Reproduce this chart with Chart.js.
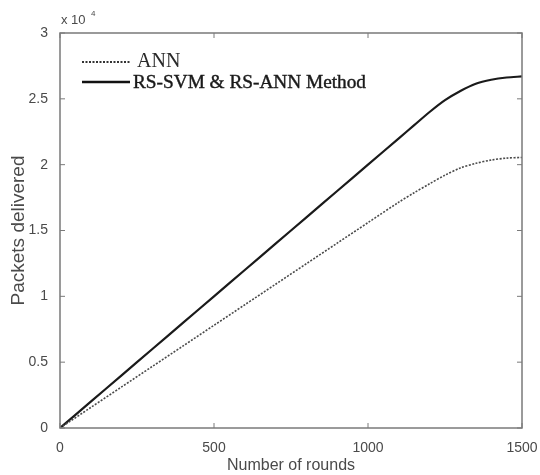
<!DOCTYPE html>
<html lang="en">
<head>
    <meta charset="UTF-8">
    <title>Packets delivered</title>
    <script src="https://cdn.jsdelivr.net/npm/chart.js"></script>
    <style>
        body { margin: 0; background: #fff; }
        #wrap { width: 540px; height: 475px; }
    </style>
</head>
<body>
    <div id="wrap"><canvas id="packetsChart" width="540" height="475"></canvas></div>
    <script>
        // rounds on x, packets delivered on y
        var rounds = [0, 100, 200, 300, 400, 500, 600, 700, 800, 900, 1000, 1100, 1150, 1200, 1250, 1300, 1350, 1400, 1450, 1500];
        var annPackets = [0, 1560, 3120, 4680, 6240, 7800, 9360, 10920, 12480, 14040, 15600, 17150, 17870, 18550, 19200, 19750, 20100, 20350, 20500, 20550];
        var rsPackets = [0, 2000, 4000, 6000, 8000, 10000, 12000, 14000, 16000, 18000, 20000, 22000, 23000, 24000, 24900, 25600, 26150, 26450, 26620, 26700];
        var xTicks = [0, 500, 1000, 1500];
        var yTicks = [0, 5000, 10000, 15000, 20000, 25000, 30000];
        var seriesNames = ['ANN', 'RS-SVM & RS-ANN Method'];

        function toPoints(ys) {
            return rounds.map(function (r, i) { return { x: r, y: ys[i] }; });
        }

        var axisGray = '#7a7a7a';
        var textGray = '#4a4a4a';
        var sans = '"Liberation Sans", Arial, sans-serif';
        var serif = '"Liberation Serif", "Times New Roman", serif';

        // frame around the plot, inward ticks, exponent and legend
        var framePlugin = {
            id: 'frame',
            afterDraw: function (chart) {
                var ctx = chart.ctx;
                var a = chart.chartArea;
                var xs = chart.scales.x, ys = chart.scales.y;
                ctx.save();
                ctx.strokeStyle = axisGray;
                ctx.lineWidth = 1.5;
                ctx.strokeRect(a.left, a.top, a.right - a.left, a.bottom - a.top);
                ctx.lineWidth = 1;
                xTicks.forEach(function (v) {
                    var px = xs.getPixelForValue(v);
                    ctx.beginPath();
                    ctx.moveTo(px, a.bottom); ctx.lineTo(px, a.bottom - 5);
                    ctx.moveTo(px, a.top); ctx.lineTo(px, a.top + 5);
                    ctx.stroke();
                });
                yTicks.forEach(function (v) {
                    var py = ys.getPixelForValue(v);
                    ctx.beginPath();
                    ctx.moveTo(a.left, py); ctx.lineTo(a.left + 5, py);
                    ctx.moveTo(a.right, py); ctx.lineTo(a.right - 5, py);
                    ctx.stroke();
                });

                // x 10^4
                ctx.fillStyle = textGray;
                ctx.font = '13px ' + sans;
                ctx.textBaseline = 'alphabetic';
                ctx.textAlign = 'left';
                ctx.fillText('x 10', 61, 24);
                ctx.font = '8px ' + sans;
                ctx.fillText('4', 91, 16);

                // legend
                var items = [
                    { y: 62, dash: [2, 1.5], width: 2, color: '#333', font: '20px ' + serif },
                    { y: 82, dash: [], width: 2.5, color: '#111', font: '18px ' + serif }
                ];
                items.forEach(function (it, i) {
                    ctx.beginPath();
                    ctx.setLineDash(it.dash);
                    ctx.strokeStyle = it.color;
                    ctx.lineWidth = it.width;
                    ctx.moveTo(82, it.y); ctx.lineTo(130, it.y);
                    ctx.stroke();
                    ctx.setLineDash([]);
                    ctx.font = it.font;
                    ctx.textBaseline = 'middle';
                    var label = seriesNames[i];
                    if (i === 1) {
                        // the figure's text is a bit wider and heavier than the font
                        ctx.fillStyle = '#1a1a1a';
                        ctx.strokeStyle = '#1a1a1a';
                        ctx.lineWidth = 0.4;
                        var w = ctx.measureText(label).width;
                        ctx.save();
                        ctx.translate(133, it.y + 1);
                        ctx.scale(233 / w, 1);
                        ctx.fillText(label, 0, 0);
                        ctx.strokeText(label, 0, 0);
                        ctx.restore();
                    } else {
                        ctx.fillStyle = '#2a2a2a';
                        ctx.fillText(label, 137, it.y);
                    }
                });
                ctx.restore();
            }
        };

        new Chart(document.getElementById('packetsChart'), {
            type: 'line',
            data: {
                datasets: [{
                    label: seriesNames[0],
                    data: toPoints(annPackets),
                    borderColor: '#4a4a4a',
                    borderWidth: 1.6,
                    borderDash: [2, 1.5],
                    pointRadius: 0,
                    tension: 0.3,
                    fill: false
                }, {
                    label: seriesNames[1],
                    data: toPoints(rsPackets),
                    borderColor: '#1a1a1a',
                    borderWidth: 2.2,
                    pointRadius: 0,
                    tension: 0.3,
                    fill: false
                }]
            },
            options: {
                responsive: false,
                animation: false,
                layout: { padding: { left: 0, right: 18, top: 33, bottom: 0 } },
                plugins: {
                    legend: { display: false },
                    tooltip: { enabled: false }
                },
                scales: {
                    x: {
                        type: 'linear',
                        min: 0,
                        max: 1500,
                        grid: { display: false },
                        border: { display: false },
                        afterBuildTicks: function (s) { s.ticks = xTicks.map(function (v) { return { value: v }; }); },
                        afterFit: function (s) { s.height = 47; s.paddingLeft = 0; s.paddingRight = 0; },
                        ticks: {
                            color: textGray,
                            padding: 4,
                            maxRotation: 0,
                            font: { family: sans, size: 14 },
                            callback: function (v) { return String(v); }
                        },
                        title: {
                            display: true,
                            text: 'Number of rounds',
                            color: textGray,
                            padding: { top: 1, bottom: 0 },
                            font: { family: sans, size: 16 }
                        }
                    },
                    y: {
                        type: 'linear',
                        min: 0,
                        max: 30000,
                        grid: { display: false },
                        border: { display: false },
                        afterBuildTicks: function (s) { s.ticks = yTicks.map(function (v) { return { value: v }; }); },
                        afterFit: function (s) { s.width = 60; s.paddingTop = 0; s.paddingBottom = 0; },
                        ticks: {
                            color: textGray,
                            padding: 4,
                            font: { family: sans, size: 14 },
                            callback: function (v) { return String(v / 10000); }
                        },
                        title: {
                            display: true,
                            text: 'Packets delivered',
                            color: textGray,
                            padding: { top: 7, bottom: 0 },
                            font: { family: sans, size: 19 }
                        }
                    }
                }
            },
            plugins: [framePlugin]
        });
    </script>
</body>
</html>
